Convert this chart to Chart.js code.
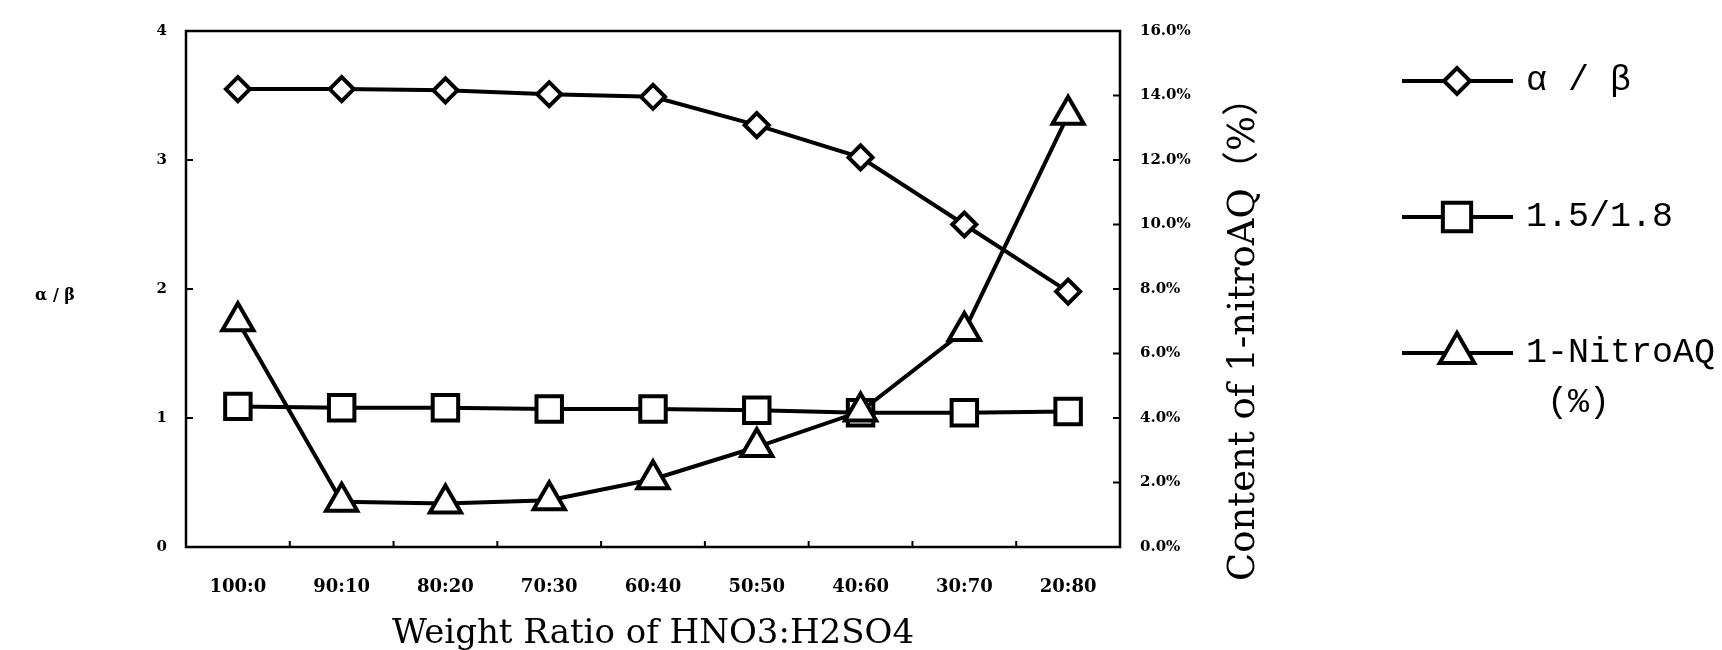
<!DOCTYPE html>
<html>
<head>
<meta charset="utf-8">
<script src="https://cdn.jsdelivr.net/npm/chart.js"></script>
<style>
  body { margin: 0; background: #fff; }
  #wrap { width: 1722px; height: 650px; }
</style>
</head>
<body>
<div id="wrap"><canvas id="chart" width="1722" height="650"></canvas></div>
<script>
// values
const ratios = ["100:0", "90:10", "80:20", "70:30", "60:40", "50:50", "40:60", "30:70", "20:80"];
const alphaBeta = [3.55, 3.55, 3.54, 3.51, 3.49, 3.27, 3.02, 2.50, 1.98];
const ratio1518 = [1.09, 1.08, 1.08, 1.07, 1.07, 1.06, 1.04, 1.04, 1.05];
const nitroAQ = [7.0, 1.4, 1.35, 1.45, 2.1, 3.1, 4.2, 6.7, 13.4];   // %
const leftTicks = { min: 0, max: 4, step: 1 };
const rightTicks = { min: 0, max: 16, step: 2 };
const seriesNames = [["α / β"], ["1.5/1.8"], ["1-NitroAQ", "(%)"]];

const ink = "#000";

function marker(ctx, style, x, y, r) {
  ctx.beginPath();
  if (style === "rectRot") {
    ctx.moveTo(x - r, y);
    ctx.lineTo(x, y - r);
    ctx.lineTo(x + r, y);
    ctx.lineTo(x, y + r);
  } else if (style === "rect") {
    const s = r * Math.SQRT1_2;
    ctx.rect(x - s, y - s, 2 * s, 2 * s);
  } else {
    ctx.moveTo(x, y - r);
    ctx.lineTo(x + 0.866 * r, y + r / 2);
    ctx.lineTo(x - 0.866 * r, y + r / 2);
  }
  ctx.closePath();
  ctx.fillStyle = "#fff";
  ctx.fill();
  ctx.stroke();
}

// frame, inward ticks, side titles and the legend
const decor = {
  id: "decor",
  beforeDatasetsDraw(chart) {
    const { ctx, chartArea: a, scales } = chart;
    ctx.save();
    ctx.strokeStyle = ink;
    ctx.lineWidth = 2.5;
    ctx.strokeRect(a.left, a.top, a.right - a.left, a.bottom - a.top);
    ctx.lineWidth = 2;
    ctx.beginPath();
    scales.y.ticks.forEach(t => {
      const py = scales.y.getPixelForValue(t.value);
      ctx.moveTo(a.left, py); ctx.lineTo(a.left + 7, py);
    });
    scales.y1.ticks.forEach(t => {
      const py = scales.y1.getPixelForValue(t.value);
      ctx.moveTo(a.right, py); ctx.lineTo(a.right - 7, py);
    });
    const half = (scales.x.getPixelForTick(1) - scales.x.getPixelForTick(0)) / 2;
    for (let i = 1; i < ratios.length; i++) {
      const px = scales.x.getPixelForTick(i) - half;
      ctx.moveTo(px, a.bottom); ctx.lineTo(px, a.bottom - 6);
    }
    ctx.stroke();
    ctx.restore();
  },
  afterDraw(chart) {
    const { ctx } = chart;
    ctx.save();
    ctx.fillStyle = ink;
    ctx.textAlign = "center";
    ctx.textBaseline = "middle";
    ctx.font = "bold 16px 'DejaVu Serif'";
    ctx.fillText("α / β", 55, 296);

    ctx.save();
    ctx.translate(1244, 330);
    ctx.rotate(-Math.PI / 2);
    ctx.font = "37px 'DejaVu Serif', 'Noto Sans CJK SC'";
    ctx.fillText("Content of 1-nitroAQ（%）", 0, 0);
    ctx.restore();

    // legend
    const styles = ["rectRot", "rect", "triangle"];
    const sizes = [13, 20, 20];
    const rows = [81, 217, 353];
    ctx.strokeStyle = ink;
    ctx.lineWidth = 4;
    ctx.textAlign = "left";
    ctx.font = "35px 'Liberation Mono'";
    rows.forEach((y, i) => {
      ctx.beginPath();
      ctx.moveTo(1402, y); ctx.lineTo(1513, y);
      ctx.stroke();
      marker(ctx, styles[i], 1457, y, sizes[i]);
      ctx.fillStyle = ink;
      ctx.fillText(seriesNames[i][0], 1526, y);
      if (seriesNames[i][1]) ctx.fillText(seriesNames[i][1], 1547, y + 50);
    });
    ctx.restore();
  }
};

const lineSet = (label, data, axis, style, r, order) => ({
  label, data, yAxisID: axis, order,
  borderColor: ink, borderWidth: 4, tension: 0, fill: false,
  pointStyle: style, pointRadius: r,
  pointBackgroundColor: "#fff", pointBorderColor: ink, pointBorderWidth: 4
});

Chart.defaults.color = ink;

new Chart(document.getElementById("chart"), {
  type: "line",
  data: {
    labels: ratios,
    datasets: [
      lineSet(seriesNames[0].join(" "), alphaBeta, "y", "rectRot", 12, 2),
      lineSet(seriesNames[1].join(" "), ratio1518, "y", "rect", 18, 1),
      lineSet(seriesNames[2].join(" "), nitroAQ, "y1", "triangle", 18, 0)
    ]
  },
  options: {
    responsive: false,
    animation: false,
    events: [],
    layout: { padding: { top: 31, right: 452, bottom: 0, left: 0 } },
    plugins: { legend: { display: false }, tooltip: { enabled: false } },
    scales: {
      x: {
        offset: true,
        grid: { display: false, drawTicks: false },
        border: { display: false },
        ticks: { padding: 30, maxRotation: 0, font: { family: "'DejaVu Serif'", size: 18, weight: "bold" } },
        title: {
          display: true,
          text: "Weight Ratio of HNO3:H2SO4",
          font: { family: "'DejaVu Serif'", size: 34 },
          padding: { top: 0, bottom: -5 }
        },
        afterFit: s => { s.height = 103; }
      },
      y: {
        position: "left",
        min: leftTicks.min, max: leftTicks.max,
        grid: { display: false, drawTicks: false },
        border: { display: false },
        ticks: { stepSize: leftTicks.step, padding: 19, font: { family: "'DejaVu Serif'", size: 15, weight: "bold" } },
        afterFit: s => { s.width = 186; }
      },
      y1: {
        position: "right",
        min: rightTicks.min, max: rightTicks.max,
        grid: { display: false, drawTicks: false },
        border: { display: false },
        ticks: {
          stepSize: rightTicks.step, padding: 20,
          font: { family: "'DejaVu Serif'", size: 15, weight: "bold" },
          callback: v => v.toFixed(1) + "%"
        },
        afterFit: s => { s.width = 150; }
      }
    }
  },
  plugins: [decor]
});
</script>
</body>
</html>
